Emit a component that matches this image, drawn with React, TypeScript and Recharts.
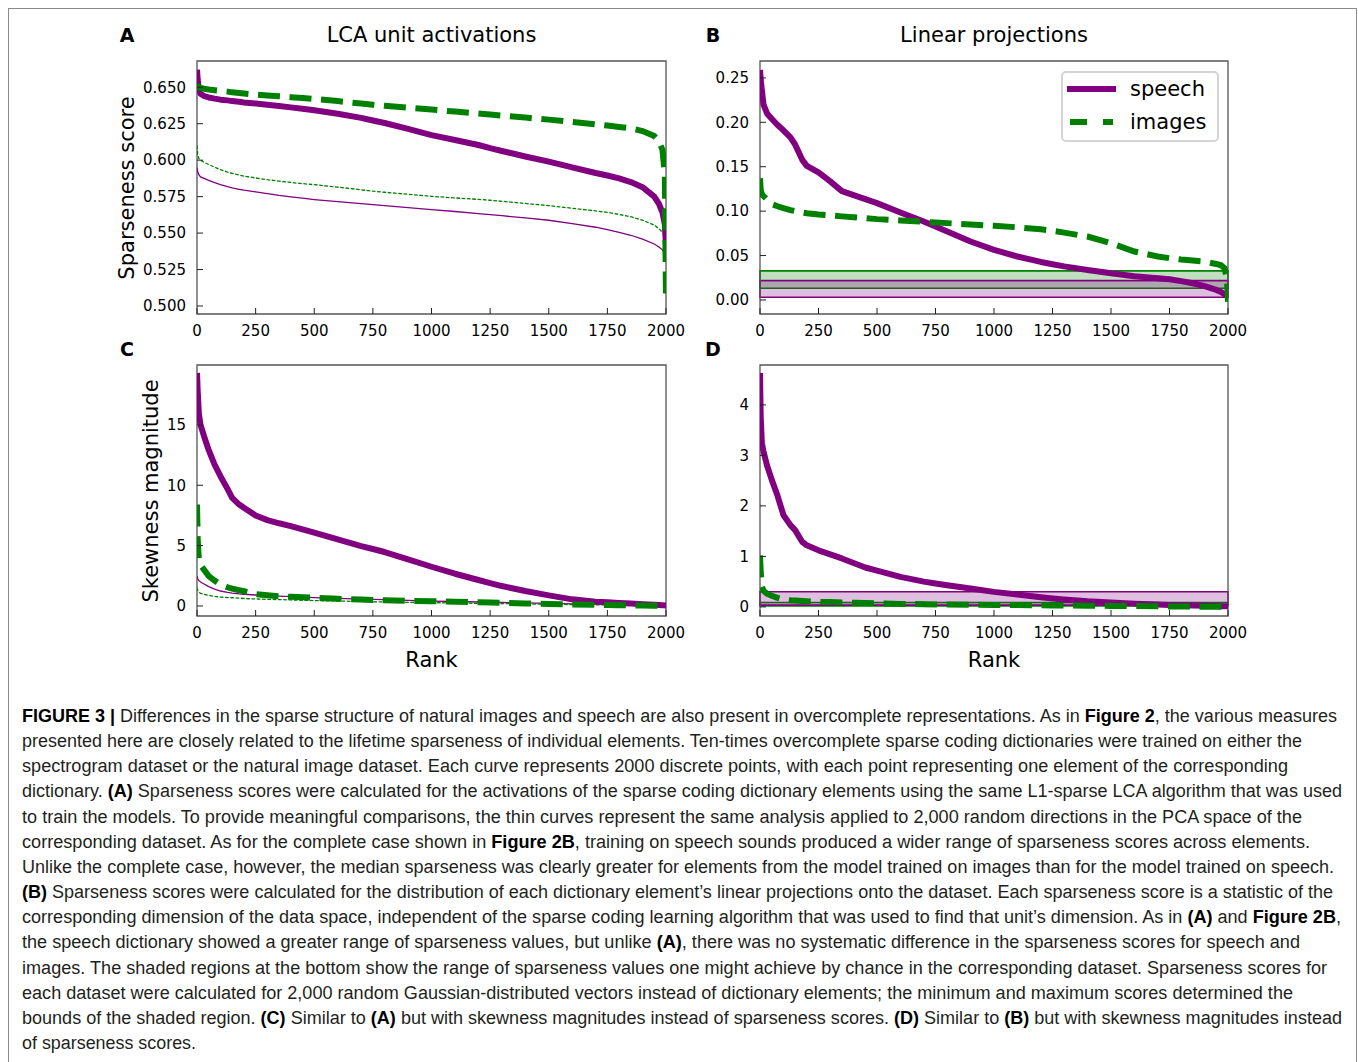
import React from 'react';
import { LineChart, Line, XAxis, YAxis, ReferenceArea, Legend } from 'recharts';

// ---------- data ----------
const RANKS = [0, 3, 8, 15, 30, 50, 75, 100, 130, 150, 180, 200, 250, 300, 350, 400, 450, 500, 600, 700, 750, 800, 900, 1000, 1100, 1200, 1250, 1300, 1400, 1500, 1600, 1700, 1750, 1800, 1850, 1900, 1950, 1970, 1985, 1995, 2000];

// Panel A: LCA sparseness
const A_SPEECH = [0.662, 0.655, 0.648, 0.6455, 0.644, 0.643, 0.6422, 0.6415, 0.641, 0.6405, 0.64, 0.6396, 0.6388, 0.638, 0.6371, 0.6362, 0.6352, 0.6342, 0.6318, 0.629, 0.6272, 0.6255, 0.6215, 0.6172, 0.6138, 0.6104, 0.6082, 0.6063, 0.6025, 0.599, 0.595, 0.5912, 0.5895, 0.5875, 0.585, 0.5815, 0.575, 0.57, 0.564, 0.556, 0.541];
const A_IMAGES = [0.652, 0.651, 0.65, 0.6495, 0.649, 0.6485, 0.648, 0.6475, 0.647, 0.6465, 0.646, 0.6457, 0.645, 0.6444, 0.6438, 0.6432, 0.6426, 0.642, 0.6405, 0.6388, 0.638, 0.6373, 0.636, 0.6347, 0.6333, 0.632, 0.6313, 0.6306, 0.6292, 0.6278, 0.6262, 0.6246, 0.6237, 0.6228, 0.6218, 0.62, 0.6165, 0.613, 0.607, 0.59, 0.503];
const A_SPEECH_RAND = [0.595, 0.592, 0.59, 0.5885, 0.5875, 0.5862, 0.5846, 0.5832, 0.5818, 0.581, 0.58, 0.5794, 0.5782, 0.577, 0.5758, 0.5748, 0.5739, 0.573, 0.5715, 0.5702, 0.5695, 0.5688, 0.5675, 0.5661, 0.5648, 0.5634, 0.5627, 0.5619, 0.5604, 0.5588, 0.5565, 0.554, 0.5524, 0.5505, 0.5485, 0.5458, 0.5425, 0.5405, 0.5385, 0.535, 0.5318];
const A_IMAGES_RAND = [0.61, 0.604, 0.601, 0.6, 0.5985, 0.597, 0.5952, 0.5935, 0.5918, 0.591, 0.5898, 0.589, 0.5878, 0.5866, 0.5856, 0.5847, 0.5839, 0.5832, 0.5815, 0.5797, 0.5787, 0.578, 0.5766, 0.5752, 0.5741, 0.5731, 0.5725, 0.5718, 0.5703, 0.5688, 0.567, 0.5652, 0.5642, 0.5628, 0.5612, 0.5588, 0.5555, 0.553, 0.5505, 0.548, 0.5455];

// Panel B: linear projection sparseness
const B_SPEECH = [0.259, 0.248, 0.236, 0.22, 0.21, 0.204, 0.197, 0.191, 0.183, 0.175, 0.158, 0.151, 0.1436, 0.1335, 0.1225, 0.118, 0.1135, 0.109, 0.0985, 0.0883, 0.0827, 0.0771, 0.0658, 0.0564, 0.0489, 0.0428, 0.0402, 0.0378, 0.0338, 0.03, 0.0268, 0.0245, 0.0233, 0.0212, 0.0188, 0.0155, 0.0113, 0.009, 0.0065, 0.0045, 0.0038];
const B_IMAGES = [0.137, 0.124, 0.119, 0.117, 0.113, 0.108, 0.1055, 0.1034, 0.1012, 0.1, 0.0985, 0.0977, 0.0962, 0.0951, 0.0941, 0.0932, 0.0922, 0.091, 0.0895, 0.088, 0.0872, 0.0865, 0.085, 0.0835, 0.0818, 0.0795, 0.0778, 0.0758, 0.0714, 0.0639, 0.0545, 0.049, 0.047, 0.0455, 0.0443, 0.0432, 0.0405, 0.039, 0.0357, 0.025, -0.002];
const B_BAND_SPEECH = [0.003, 0.0218];
const B_BAND_IMAGES = [0.0132, 0.0327];

// Panel C: LCA skewness
const C_SPEECH = [19.3, 17.8, 15.9, 15.0, 14.06, 12.9, 11.7, 10.75, 9.7, 8.96, 8.4, 8.13, 7.5, 7.11, 6.85, 6.62, 6.35, 6.07, 5.51, 4.96, 4.72, 4.47, 3.86, 3.25, 2.67, 2.15, 1.9, 1.65, 1.24, 0.88, 0.55, 0.36, 0.3, 0.25, 0.2, 0.14, 0.1, 0.08, 0.06, 0.05, 0.05];
const C_IMAGES = [8.4, 5.5, 3.8, 3.4, 3.0, 2.48, 2.1, 1.79, 1.55, 1.43, 1.3, 1.22, 0.97, 0.88, 0.81, 0.76, 0.72, 0.69, 0.6, 0.53, 0.5, 0.47, 0.43, 0.39, 0.35, 0.3, 0.28, 0.26, 0.21, 0.17, 0.13, 0.1, 0.08, 0.06, 0.05, 0.03, 0.02, 0.01, 0.01, 0.0, 0.0];
const C_SPEECH_RAND = [2.48, 2.25, 2.1, 1.98, 1.82, 1.6, 1.4, 1.24, 1.12, 1.06, 1.0, 0.97, 0.91, 0.86, 0.82, 0.78, 0.73, 0.69, 0.63, 0.57, 0.54, 0.52, 0.46, 0.41, 0.37, 0.33, 0.31, 0.29, 0.25, 0.22, 0.18, 0.15, 0.13, 0.12, 0.1, 0.08, 0.07, 0.06, 0.05, 0.05, 0.05];
const C_IMAGES_RAND = [1.52, 1.3, 1.15, 1.05, 0.97, 0.88, 0.8, 0.74, 0.7, 0.68, 0.65, 0.62, 0.58, 0.55, 0.53, 0.5, 0.47, 0.45, 0.41, 0.37, 0.35, 0.33, 0.3, 0.28, 0.25, 0.22, 0.21, 0.2, 0.17, 0.14, 0.12, 0.1, 0.09, 0.08, 0.07, 0.06, 0.05, 0.04, 0.04, 0.03, 0.03];

// Panel D: linear projection skewness
const D_SPEECH = [4.63, 3.77, 3.24, 3.08, 2.8, 2.52, 2.2, 1.82, 1.62, 1.52, 1.29, 1.22, 1.12, 1.04, 0.96, 0.87, 0.78, 0.72, 0.595, 0.5, 0.463, 0.43, 0.364, 0.298, 0.245, 0.19, 0.165, 0.145, 0.11, 0.086, 0.065, 0.05, 0.04, 0.033, 0.027, 0.021, 0.016, 0.015, 0.014, 0.013, 0.013];
const D_IMAGES = [1.02, 0.7, 0.4, 0.32, 0.26, 0.22, 0.18, 0.145, 0.13, 0.125, 0.115, 0.11, 0.1, 0.095, 0.088, 0.08, 0.075, 0.07, 0.06, 0.053, 0.05, 0.048, 0.044, 0.04, 0.036, 0.032, 0.03, 0.028, 0.024, 0.02, 0.016, 0.012, 0.01, 0.008, 0.006, 0.004, 0.002, 0.001, 0.0, 0.0, 0.0];
const D_BAND_SPEECH = [0.035, 0.3];
const D_BAND_IMAGES = [0.02, 0.087];

// ticks & domains
const X_TICKS = [0, 250, 500, 750, 1000, 1250, 1500, 1750, 2000];
const A_TICKS = [0.5, 0.525, 0.55, 0.575, 0.6, 0.625, 0.65];
const B_TICKS = [0, 0.05, 0.1, 0.15, 0.2, 0.25];
const C_TICKS = [0, 5, 10, 15];
const D_TICKS = [0, 1, 2, 3, 4];
const A_DOMAIN = [0.4945, 0.668];
const B_DOMAIN = [-0.0158, 0.269];
const C_DOMAIN = [-0.83, 19.96];
const D_DOMAIN = [-0.18, 4.79];

const PANEL_TITLES = ['LCA unit activations', 'Linear projections'];
const PANEL_LETTERS = ['A', 'B', 'C', 'D'];
const Y_LABELS = ['Sparseness score', 'Skewness magnitude'];
const X_LABEL = 'Rank';
const LEGEND_NAMES = ['speech', 'images'];

type Seg = [string, boolean];
const CAPTION_LINES: Seg[][] = [
  [['FIGURE 3 | ', true], ['Differences in the sparse structure of natural images and speech are also present in overcomplete representations. As in ', false], ['Figure 2', true], [', the various measures', false]],
  [['presented here are closely related to the lifetime sparseness of individual elements. Ten-times overcomplete sparse coding dictionaries were trained on either the', false]],
  [['spectrogram dataset or the natural image dataset. Each curve represents 2000 discrete points, with each point representing one element of the corresponding', false]],
  [['dictionary. ', false], ['(A)', true], [' Sparseness scores were calculated for the activations of the sparse coding dictionary elements using the same L1-sparse LCA algorithm that was used', false]],
  [['to train the models. To provide meaningful comparisons, the thin curves represent the same analysis applied to 2,000 random directions in the PCA space of the', false]],
  [['corresponding dataset. As for the complete case shown in ', false], ['Figure 2B', true], [', training on speech sounds produced a wider range of sparseness scores across elements.', false]],
  [['Unlike the complete case, however, the median sparseness was clearly greater for elements from the model trained on images than for the model trained on speech.', false]],
  [['(B)', true], [' Sparseness scores were calculated for the distribution of each dictionary element\u2019s linear projections onto the dataset. Each sparseness score is a statistic of the', false]],
  [['corresponding dimension of the data space, independent of the sparse coding learning algorithm that was used to find that unit\u2019s dimension. As in ', false], ['(A)', true], [' and ', false], ['Figure 2B', true], [',', false]],
  [['the speech dictionary showed a greater range of sparseness values, but unlike ', false], ['(A)', true], [', there was no systematic difference in the sparseness scores for speech and', false]],
  [['images. The shaded regions at the bottom show the range of sparseness values one might achieve by chance in the corresponding dataset. Sparseness scores for', false]],
  [['each dataset were calculated for 2,000 random Gaussian-distributed vectors instead of dictionary elements; the minimum and maximum scores determined the', false]],
  [['bounds of the shaded region. ', false], ['(C)', true], [' Similar to ', false], ['(A)', true], [' but with skewness magnitudes instead of sparseness scores. ', false], ['(D)', true], [' Similar to ', false], ['(B)', true], [' but with skewness magnitudes instead', false]],
  [['of sparseness scores.', false]],
];
const CAPTION_RIGHT = [1337, 1302, 1288, 1342, 1302, 1310, 1334, 1333, 1341, 1300, 1327, 1293, 1342, 196];

// ---------- styling ----------
const PURPLE = '#800080';
const GREEN = '#008000';
const FONT = '"DejaVu Sans", Verdana, sans-serif';
const CAPTION_FONT = '"Liberation Sans Narrow", "Liberation Sans", Arial, sans-serif';

const rows = (cols: Record<string, number[]>) =>
  RANKS.map((r, i) => {
    const o: Record<string, number> = { rank: r };
    Object.keys(cols).forEach((k) => (o[k] = cols[k][i]));
    return o;
  });

const dataA = rows({ speech: A_SPEECH, images: A_IMAGES, speechRand: A_SPEECH_RAND, imagesRand: A_IMAGES_RAND });
const dataB = rows({ speech: B_SPEECH, images: B_IMAGES });
const dataC = rows({ speech: C_SPEECH, images: C_IMAGES, speechRand: C_SPEECH_RAND, imagesRand: C_IMAGES_RAND });
const dataD = rows({ speech: D_SPEECH, images: D_IMAGES });

type PanelProps = {
  left: number;
  top: number;
  width: number;
  height: number;
  mTop: number;
  mRight: number;
  yWidth: number;
  xHeight: number;
  data: any[];
  domain: number[];
  ticks: number[];
  fmt: (v: number) => string;
  thin?: boolean;
  bands?: { range: number[]; color: string }[];
  legend?: boolean;
};

function LegendBox() {
  return (
    <div
      style={{
        width: 158,
        height: 71,
        boxSizing: 'border-box',
        border: '2px solid #d4d4d4',
        borderRadius: 5,
        background: 'rgba(255,255,255,0.85)',
      }}
    >
      <svg width={154} height={67} style={{ display: 'block' }}>
        <line x1={4} x2={53} y1={16} y2={16} stroke={PURPLE} strokeWidth={6} />
        <text x={67} y={16} dominantBaseline="central" fontSize={21} fontFamily={FONT} fill="#000">
          {LEGEND_NAMES[0]}
        </text>
        <line x1={7} x2={50} y1={49} y2={49} stroke={GREEN} strokeWidth={6} strokeDasharray="17 16" />
        <text x={67} y={49} dominantBaseline="central" fontSize={21} fontFamily={FONT} fill="#000">
          {LEGEND_NAMES[1]}
        </text>
      </svg>
    </div>
  );
}

function Panel(p: PanelProps) {
  const tickStyle = { fontSize: 15, fill: '#000', fontFamily: FONT };
  return (
    <div style={{ position: 'absolute', left: p.left, top: p.top }}>
      <LineChart
        width={p.width}
        height={p.height}
        data={p.data}
        margin={{ top: p.mTop, right: p.mRight, left: 0, bottom: 0 }}
      >
        <XAxis
          type="number"
          dataKey="rank"
          domain={[0, 2000]}
          ticks={X_TICKS}
          interval={0}
          allowDataOverflow
          height={p.xHeight}
          axisLine={false}
          tickSize={-6}
          tickMargin={17}
          tickLine={{ stroke: '#222' }}
          tick={tickStyle}
        />
        <YAxis
          type="number"
          domain={p.domain}
          ticks={p.ticks}
          interval={0}
          allowDataOverflow
          width={p.yWidth}
          axisLine={false}
          tickSize={-6}
          tickMargin={17}
          tickLine={{ stroke: '#222' }}
          tick={tickStyle}
          tickFormatter={p.fmt}
        />
        {(p.bands || []).map((b, i) => (
          <ReferenceArea
            key={'band' + i}
            x1={0}
            x2={2000}
            y1={b.range[0]}
            y2={b.range[1]}
            fill={b.color}
            fillOpacity={0.25}
            stroke={b.color}
            strokeWidth={1.6}
            ifOverflow="visible"
          />
        ))}
        {p.thin && (
          <Line type="linear" dataKey="speechRand" stroke={PURPLE} strokeWidth={1.3} dot={false} activeDot={false} isAnimationActive={false} />
        )}
        {p.thin && (
          <Line type="linear" dataKey="imagesRand" stroke={GREEN} strokeWidth={1.3} strokeDasharray="3.7 1.6" dot={false} activeDot={false} isAnimationActive={false} />
        )}
        <Line type="linear" dataKey="speech" stroke={PURPLE} strokeWidth={6} strokeLinejoin="round" dot={false} activeDot={false} isAnimationActive={false} />
        <Line type="linear" dataKey="images" stroke={GREEN} strokeWidth={6} strokeDasharray="22 9.6" strokeLinecap="butt" dot={false} activeDot={false} isAnimationActive={false} />
        <ReferenceArea
          x1={0}
          x2={2000}
          y1={p.domain[0]}
          y2={p.domain[1]}
          fill="none"
          stroke="#555"
          strokeWidth={1.3}
          ifOverflow="visible"
        />
        {p.legend && (
          <Legend
            layout="horizontal"
            verticalAlign="middle"
            align="center"
            wrapperStyle={{ left: 371, top: 21, width: 158, height: 71 }}
            content={() => <LegendBox />}
          />
        )}
      </LineChart>
    </div>
  );
}

function Txt(props: { x: number; y: number; size: number; bold?: boolean; rotate?: boolean; children: React.ReactNode }) {
  return (
    <div
      style={{
        position: 'absolute',
        left: props.x,
        top: props.y,
        transform: `translate(-50%, -50%)${props.rotate ? ' rotate(-90deg)' : ''}`,
        fontFamily: FONT,
        fontSize: props.size,
        fontWeight: props.bold ? 'bold' : 'normal',
        lineHeight: 1,
        whiteSpace: 'nowrap',
        color: '#000',
      }}
    >
      {props.children}
    </div>
  );
}

export default function App() {
  const CAP_LEFT = 22;
  return (
    <div style={{ position: 'fixed', left: 0, top: 0, width: 1358, height: 1062, overflow: 'hidden', background: '#fff' }}>
      <style>{'html,body{overflow:hidden;margin:8px;}'}</style>
      <div
        style={{
          position: 'absolute',
          left: 8,
          top: 8,
          width: 1349,
          height: 1080,
          boxSizing: 'border-box',
          border: '1px solid #8a8a8a',
        }}
      />

      <Panel left={100} top={50} width={590} height={300} mTop={11} mRight={24} yWidth={97} xHeight={36}
        data={dataA} domain={A_DOMAIN} ticks={A_TICKS} fmt={(v) => v.toFixed(3)} thin />
      <Panel left={690} top={50} width={568} height={300} mTop={11} mRight={30} yWidth={70} xHeight={36}
        data={dataB} domain={B_DOMAIN} ticks={B_TICKS} fmt={(v) => v.toFixed(2)}
        bands={[{ range: B_BAND_IMAGES, color: GREEN }, { range: B_BAND_SPEECH, color: PURPLE }]} legend />
      <Panel left={100} top={355} width={590} height={321} mTop={10} mRight={24} yWidth={97} xHeight={60}
        data={dataC} domain={C_DOMAIN} ticks={C_TICKS} fmt={(v) => String(v)} thin />
      <Panel left={690} top={355} width={568} height={321} mTop={10} mRight={30} yWidth={70} xHeight={60}
        data={dataD} domain={D_DOMAIN} ticks={D_TICKS} fmt={(v) => String(v)}
        bands={[{ range: D_BAND_IMAGES, color: GREEN }, { range: D_BAND_SPEECH, color: PURPLE }]} />

      <Txt x={127} y={35} size={19} bold>{PANEL_LETTERS[0]}</Txt>
      <Txt x={713} y={35} size={19} bold>{PANEL_LETTERS[1]}</Txt>
      <Txt x={127} y={349} size={19} bold>{PANEL_LETTERS[2]}</Txt>
      <Txt x={713} y={349} size={19} bold>{PANEL_LETTERS[3]}</Txt>
      <Txt x={431.5} y={35} size={21}>{PANEL_TITLES[0]}</Txt>
      <Txt x={994} y={35} size={21}>{PANEL_TITLES[1]}</Txt>
      <Txt x={127} y={187.5} size={21} rotate>{Y_LABELS[0]}</Txt>
      <Txt x={151} y={491} size={21} rotate>{Y_LABELS[1]}</Txt>
      <Txt x={431.5} y={660} size={21}>{X_LABEL}</Txt>
      <Txt x={994} y={660} size={21}>{X_LABEL}</Txt>

      <svg style={{ position: 'absolute', left: 0, top: 690 }} width={1358} height={372}>
        {CAPTION_LINES.map((line, i) => (
          <text
            key={i}
            x={CAP_LEFT}
            y={722 - 690 + i * 25.15}
            fontFamily={CAPTION_FONT}
            fontSize={18}
            fill="#231f20"
            textLength={CAPTION_RIGHT[i] - CAP_LEFT}
            lengthAdjust="spacingAndGlyphs"
            style={{ whiteSpace: 'pre' }}
          >
            {line.map((s, j) => (
              <tspan key={j} fontWeight={s[1] ? 'bold' : 'normal'} fill={s[1] ? '#000' : '#231f20'}>
                {s[0]}
              </tspan>
            ))}
          </text>
        ))}
      </svg>
    </div>
  );
}
